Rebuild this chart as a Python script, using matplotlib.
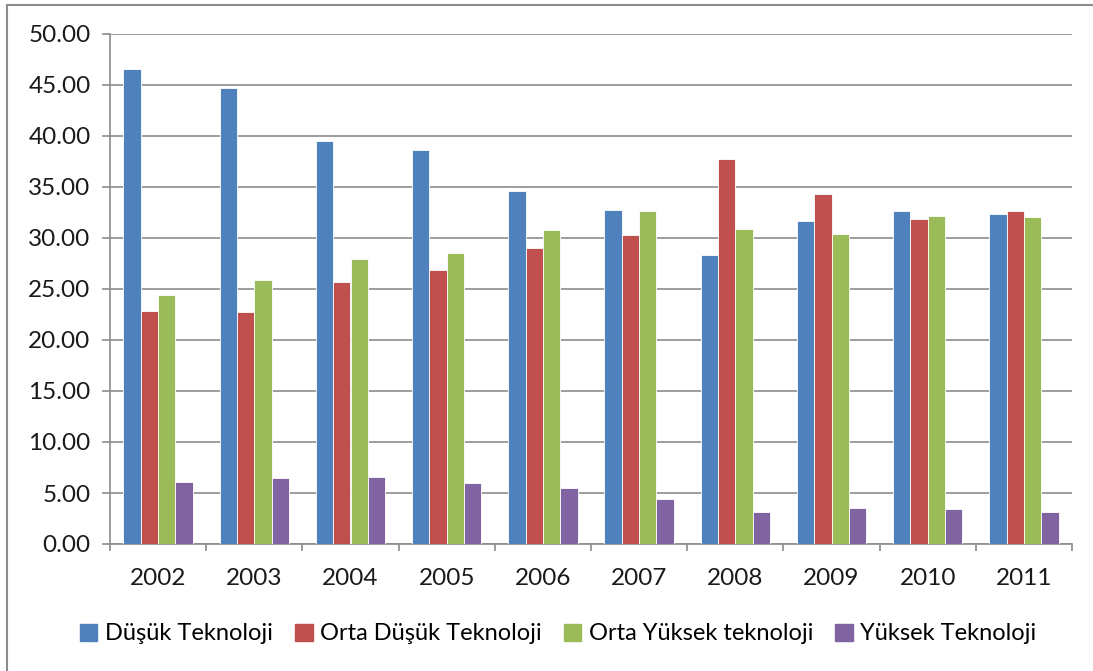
import matplotlib.pyplot as plt
import numpy as np
from matplotlib.lines import Line2D

plt.rcParams['font.family'] = ['Lato', 'DejaVu Sans']

years = ['2002', '2003', '2004', '2005', '2006', '2007', '2008', '2009', '2010', '2011']
dusuk = [46.6, 44.7, 39.5, 38.6, 34.6, 32.7, 28.3, 31.7, 32.6, 32.4]
orta_dusuk = [22.8, 22.7, 25.7, 26.9, 29.0, 30.3, 37.7, 34.3, 31.9, 32.6]
orta_yuksek = [24.4, 25.9, 27.9, 28.5, 30.8, 32.6, 30.9, 30.4, 32.2, 32.1]
yuksek = [6.1, 6.45, 6.6, 5.95, 5.5, 4.4, 3.15, 3.55, 3.4, 3.15]

series = [
    ('Düşük Teknoloji', dusuk, '#4F81BD'),
    ('Orta Düşük Teknoloji', orta_dusuk, '#C0504D'),
    ('Orta Yüksek teknoloji', orta_yuksek, '#9BBB59'),
    ('Yüksek Teknoloji', yuksek, '#8064A2'),
]

W, H = 1093, 671
fig = plt.figure(figsize=(W / 100, H / 100), dpi=100)
ax = fig.add_axes([110 / W, 1 - 544 / H, (1072 - 110) / W, (544 - 34) / H])

x = np.arange(len(years))
bw = 0.18
for i, (name, vals, col) in enumerate(series):
    ax.bar(x + (i - 1.5) * bw, vals, bw, color=col, edgecolor='white',
           linewidth=0.6, label=name, zorder=3)

ax.set_xlim(-0.5, len(years) - 0.5)
ax.set_ylim(0, 50)
ax.set_yticks(np.arange(0, 50.1, 5))
ax.set_yticklabels(['%.2f' % v for v in np.arange(0, 50.1, 5)])
ax.yaxis.grid(True, color='#8c8c8c', linewidth=1.2, zorder=0)

ax.set_xticks(x)
ax.set_xticklabels(years)
ax.set_xticks(np.arange(-0.5, len(years), 1), minor=True)
ax.tick_params(axis='x', which='major', length=0, pad=17, labelsize=17.5, colors='#1a1a1a')
ax.tick_params(axis='x', which='minor', length=5, width=1.2, color='#8c8c8c', direction='out')
ax.tick_params(axis='y', length=6, width=1.2, color='#8c8c8c', labelsize=17.5, pad=8, labelcolor='#1a1a1a')

for s in ['top', 'right']:
    ax.spines[s].set_visible(False)
for s in ['left', 'bottom']:
    ax.spines[s].set_color('#8c8c8c')
    ax.spines[s].set_linewidth(1.2)

handles = [plt.Rectangle((0, 0), 1, 1, color=c) for _, _, c in series]
fig.legend(handles, [n for n, _, _ in series], loc='center',
           bbox_to_anchor=(558 / W, 1 - 634 / H), ncol=4, frameon=False,
           fontsize=17, handlelength=0.75, handleheight=0.75, handletextpad=0.3,
           columnspacing=0.95)

# outer border (left and top visible)
fig.add_artist(Line2D([7 / W, 7 / W], [0, 1 - 5 / H], color='#8c8c8c', linewidth=1.5))
fig.add_artist(Line2D([7 / W, 1], [1 - 5 / H, 1 - 5 / H], color='#8c8c8c', linewidth=1.5))

fig.savefig('out.png', dpi=100)
